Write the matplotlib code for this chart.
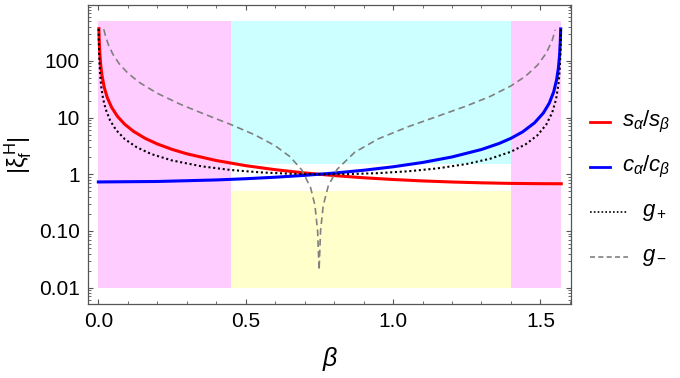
import numpy as np
import matplotlib
matplotlib.use("Agg")
import matplotlib.pyplot as plt
from matplotlib.lines import Line2D
from matplotlib.ticker import LogLocator, NullFormatter, MultipleLocator

plt.rcParams['font.family'] = ['Liberation Sans', 'DejaVu Sans']
plt.rcParams['mathtext.fontset'] = 'custom'
plt.rcParams['mathtext.it'] = 'Liberation Sans:italic'
plt.rcParams['mathtext.rm'] = 'Liberation Sans'
plt.rcParams['mathtext.bf'] = 'Liberation Sans:bold'

# values
beta_red = [0.00184, 0.003, 0.005, 0.008, 0.012, 0.02, 0.03, 0.045, 0.065, 0.09,
            0.12, 0.16, 0.2, 0.25, 0.3, 0.4, 0.5, 0.6, 0.7, 0.8, 0.9, 1.0, 1.1,
            1.2, 1.3, 1.4, 1.5, 1.5708]
s_ratio = [370, 227, 136.2, 85.1, 56.8, 34.05, 22.7, 15.14, 10.48, 7.58,
           5.69, 4.27, 3.43, 2.75, 2.30, 1.749, 1.420, 1.206, 1.057, 0.949, 0.869,
           0.809, 0.764, 0.731, 0.707, 0.691, 0.683, 0.681]

beta_blue = [0, 0.2, 0.4, 0.5, 0.6, 0.7, 0.8, 0.9, 1.0, 1.1, 1.2, 1.3, 1.36, 1.4,
             1.44, 1.48, 1.51, 1.53, 1.545, 1.555, 1.561, 1.565, 1.5677, 1.5688]
c_ratio = [0.7325, 0.747, 0.795, 0.835, 0.888, 0.958, 1.051, 1.178, 1.356, 1.615,
           2.021, 2.738, 3.501, 4.310, 5.616, 8.078, 12.06, 17.96, 28.39, 46.4,
           74.7, 126.3, 236, 366]

beta_gp = [0.00093, 0.0015, 0.0025, 0.004, 0.006, 0.01, 0.016, 0.025, 0.04, 0.06,
           0.09, 0.13, 0.18, 0.25, 0.35, 0.45, 0.55, 0.65, 0.75, 0.85, 0.95, 1.05,
           1.15, 1.25, 1.33, 1.4, 1.45, 1.49, 1.52, 1.54, 1.553, 1.561, 1.5655,
           1.5683, 1.5698]
g_plus = [366.5, 227.4, 136.6, 85.5, 57.1, 34.4, 21.6, 14.0, 8.88, 6.05,
          4.16, 3.00, 2.27, 1.754, 1.383, 1.190, 1.081, 1.023, 1.000, 1.008, 1.048,
          1.129, 1.270, 1.520, 1.886, 2.50, 3.38, 4.88, 7.55, 12.24, 20.9, 37.7,
          69.5, 147.1, 368]

beta_gm = [0.0185, 0.025, 0.035, 0.05, 0.07, 0.1, 0.14, 0.2, 0.28, 0.36, 0.45,
           0.53, 0.6, 0.65, 0.69, 0.72, 0.735, 0.744, 0.749, 0.754, 0.763, 0.78,
           0.81, 0.87, 0.95, 1.05, 1.15, 1.25, 1.33, 1.4, 1.45, 1.49, 1.52, 1.54,
           1.5505]
g_minus = [360.8, 265, 187, 129, 90.0, 60.9, 41.4, 26.8, 17.0, 11.5, 7.53,
           4.98, 3.19, 2.05, 1.20, 0.585, 0.283, 0.0996, 0.0205, 0.101, 0.280, 0.62,
           1.22, 2.45, 4.22, 6.87, 10.5, 16.1, 23.7, 36.2, 53.9, 83.9, 137.5, 231,
           354]

# shaded regions: (x0, x1, y0, y1, colour)
regions = [
    (0.0, 0.45, 0.01, 500, '#ffccff'),
    (1.4, 1.5708, 0.01, 500, '#ffccff'),
    (0.45, 1.4, 1.5, 500, '#ccffff'),
    (0.45, 1.4, 0.01, 0.5, '#ffffcc'),
]

fig = plt.figure(figsize=(6.8, 3.78), dpi=100)
ax = fig.add_axes([0.1299, 0.1958, 0.7099, 0.791])

for x0, x1, y0, y1, col in regions:
    ax.fill_between([x0, x1], y0, y1, color=col, linewidth=0, zorder=0)

ax.plot(beta_red, s_ratio, color='red', lw=2.2, zorder=3)
ax.plot(beta_blue, c_ratio, color='blue', lw=2.2, zorder=3)
ax.plot(beta_gp, g_plus, color='black', lw=1.5, ls=(0, (1, 1.3)), zorder=4)
ax.plot(beta_gm, g_minus, color='gray', lw=1.2, ls=(0, (4, 2.5)), zorder=4)

ax.set_yscale('log')
ax.set_xlim(-0.034, 1.604)
ax.set_ylim(0.00516, 968)

ax.set_xticks([0.0, 0.5, 1.0, 1.5])
ax.set_xticklabels(['0.0', '0.5', '1.0', '1.5'])
ax.xaxis.set_minor_locator(MultipleLocator(0.1))
ax.set_yticks([0.01, 0.1, 1, 10, 100])
ax.set_yticklabels(['0.01', '0.10', '1', '10', '100'])
ax.yaxis.set_minor_locator(LogLocator(base=10, subs=np.arange(2, 10), numticks=20))
ax.yaxis.set_minor_formatter(NullFormatter())

frame_col = '#555555'
for s in ax.spines.values():
    s.set_color(frame_col)
    s.set_linewidth(0.9)
ax.tick_params(which='both', direction='in', top=True, right=True,
               color=frame_col, labelsize=15, labelcolor='black')
ax.tick_params(which='major', length=3.6, width=0.8, pad=6)
ax.tick_params(which='minor', length=2.0, width=0.6)

ax.set_xlabel(r'$\beta$', fontsize=18, labelpad=10)
fig.text(0.027, 0.59, r'$|\mathrm{\xi}_\mathrm{f}^{\,\mathrm{H}}|$', rotation=90,
         fontsize=17, ha='center', va='center')

# legend on the right
entries = [
    (r'$s_\alpha/s_\beta$', dict(color='red', lw=2.0), 0.897, 0.915, 0.677),
    (r'$c_\alpha/c_\beta$', dict(color='blue', lw=2.0), 0.897, 0.915, 0.558),
    (r'$g_+$', dict(color='black', lw=1.2, ls=(0, (1, 1.3))), 0.924, 0.944, 0.439),
    (r'$g_-$', dict(color='gray', lw=1.2, ls=(0, (3, 2))), 0.924, 0.944, 0.320),
]
for label, style, xend, xtext, y in entries:
    fig.add_artist(Line2D([0.868, xend], [y, y], transform=fig.transFigure, **style))
    fig.text(xtext, y, label, fontsize=16, ha='left', va='center')

fig.savefig('out.png', dpi=100)
